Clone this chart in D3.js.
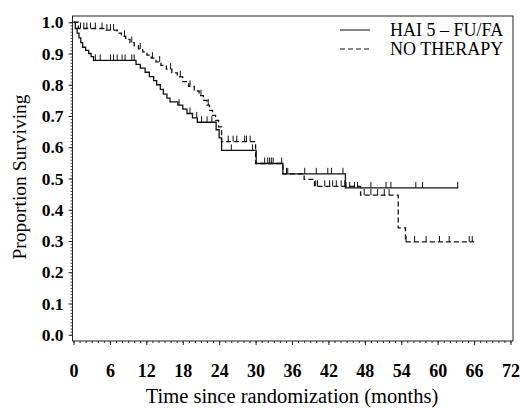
<!DOCTYPE html>
<html>
<head>
<meta charset="UTF-8">
<title>Proportion Surviving</title>
<script src="https://d3js.org/d3.v7.min.js"></script>
<style>
    body { margin: 0; padding: 0; background: #fff; }
    svg { display: block; font-family: "Liberation Serif", "DejaVu Serif", serif; }
</style>
</head>
<body>
<svg id="chart" width="521" height="408"></svg>
<script>
// x labels in months, y labels as proportions
const xTicks = [0, 6, 12, 18, 24, 30, 36, 42, 48, 54, 60, 66, 72];
const yTicks = [0, 0.1, 0.2, 0.3, 0.4, 0.5, 0.6, 0.7, 0.8, 0.9, 1.0];
const legendNames = ["HAI 5 \u2013 FU/FA", "NO THERAPY"];

// HAI 5-FU/FA: step times, survival after step, censor times, last follow-up
const haiTimes = [0.3, 0.6, 0.9, 1.2, 1.5, 2.0, 2.5, 2.9, 3.3,
    10.3, 11.0, 11.8, 12.5, 13.2, 13.7, 14.3, 14.8, 15.4, 15.9, 17.2, 18.0, 18.7, 19.6, 20.4,
    23.5, 24.0, 24.4, 30.1, 34.5, 44.8];
const haiSurv = [0.98, 0.965, 0.95, 0.935, 0.92, 0.91, 0.90, 0.89, 0.878,
    0.865, 0.853, 0.84, 0.826, 0.813, 0.80, 0.785, 0.77, 0.757, 0.745, 0.735, 0.722, 0.708, 0.694, 0.68,
    0.656, 0.63, 0.59, 0.548, 0.515, 0.47];
const haiCensor = [3.6, 4.4, 6.1, 6.6, 7.2, 8.0, 8.5, 9.6, 10.0,
    17.4, 19.2, 20.3, 21.1, 22.0, 22.8, 26.0, 29.5,
    31.5, 32.0, 32.3, 32.6, 32.9, 34.3, 35.1, 35.3, 38.1, 40.0, 41.9, 42.5, 44.4,
    44.9, 45.5, 46.3, 46.8, 49.0, 51.5, 52.3, 56.4, 57.5, 63.3];
const haiEnd = 63.4;

// No therapy
const noTimes = [0.8, 5.0, 7.2, 7.9, 8.6, 9.3, 10.0, 10.7, 11.4, 12.1, 12.8, 13.6, 14.4, 15.3,
    16.2, 17.1, 18.0, 19.0, 19.9, 20.7, 21.4, 22.0, 22.4, 22.9, 23.4, 23.9, 24.4,
    30.0, 34.5, 38.0, 39.7, 47.3, 53.5, 54.7];
const noSurv = [0.98, 0.975, 0.965, 0.955, 0.945, 0.935, 0.925, 0.915, 0.905, 0.895, 0.885, 0.873, 0.862, 0.85,
    0.838, 0.825, 0.81, 0.795, 0.78, 0.765, 0.75, 0.735, 0.718, 0.702, 0.686, 0.665, 0.618,
    0.548, 0.515, 0.497, 0.475, 0.447, 0.342, 0.297];
const noCensor = [1.15, 1.7, 2.2, 2.8, 3.6, 4.7, 5.5, 6.1, 6.6,
    8.4, 9.6, 11.0, 13.0, 14.2, 16.0, 17.6, 19.2, 21.0, 22.2,
    25.5, 26.3, 26.9, 28.2, 28.5, 29.1,
    39.9, 40.2, 41.4, 42.2, 42.7, 43.3, 44.1, 44.7,
    47.9, 49.0, 50.1, 51.2, 52.0,
    54.8, 56.2, 58.1, 60.3, 61.9, 65.2, 65.7];
const noEnd = 66.0;

const svg = d3.select("#chart");

const frame = { left: 72.5, right: 513, top: 16, bottom: 341 };

const x = d3.scaleLinear().domain([0, 72]).range([73.5, 510.5]);
const y = d3.scaleLinear().domain([-0.02, 1.02]).range([frame.bottom, frame.top]);

// frame
svg.append("rect")
    .attr("x", frame.left).attr("y", frame.top)
    .attr("width", frame.right - frame.left)
    .attr("height", frame.bottom - frame.top)
    .attr("fill", "none")
    .attr("stroke", "#222")
    .attr("stroke-width", 1);

// x axis along the bottom of the frame
const xAxis = svg.append("g")
    .attr("transform", `translate(0,${frame.bottom})`)
    .call(d3.axisBottom(x).tickValues(d3.range(0, 73, 1)).tickSize(2).tickFormat(""));
xAxis.select(".domain").remove();
xAxis.selectAll("line").attr("stroke", "#222");

const xMajor = svg.append("g")
    .attr("transform", `translate(0,${frame.bottom})`)
    .call(d3.axisBottom(x).tickValues(xTicks).tickSize(4).tickPadding(19).tickFormat(d3.format("d")));
xMajor.select(".domain").remove();
xMajor.selectAll("line").attr("stroke", "#222");
xMajor.selectAll("text")
    .attr("font-family", "Liberation Serif, serif")
    .attr("font-size", 18)
    .attr("font-weight", "bold")
    .attr("fill", "#000");

// y axis along the left of the frame
const yMinor = svg.append("g")
    .attr("transform", `translate(${frame.left},0)`)
    .call(d3.axisLeft(y).tickValues(d3.range(0, 101, 1).map(d => d / 100)).tickSize(2).tickFormat(""));
yMinor.select(".domain").remove();
yMinor.selectAll("line").attr("stroke", "#444");

const yMajor = svg.append("g")
    .attr("transform", `translate(${frame.left},0)`)
    .call(d3.axisLeft(y).tickValues(yTicks).tickSize(4).tickPadding(5).tickFormat(d3.format(".1f")));
yMajor.select(".domain").remove();
yMajor.selectAll("line").attr("stroke", "#222");
yMajor.selectAll("text")
    .attr("font-family", "Liberation Serif, serif")
    .attr("font-size", 17.5)
    .attr("font-weight", "bold")
    .attr("fill", "#000");

// axis titles
svg.append("text")
    .attr("x", 292)
    .attr("y", 403)
    .attr("text-anchor", "middle")
    .attr("font-size", 20.5)
    .text("Time since randomization (months)");

svg.append("text")
    .attr("transform", "rotate(-90)")
    .attr("x", -177)
    .attr("y", 26)
    .attr("text-anchor", "middle")
    .attr("font-size", 19.5)
    .text("Proportion Surviving");

// survival curves
function stepPoints(times, surv, end) {
    const pts = [[0, 1]];
    times.forEach((t, i) => pts.push([t, surv[i]]));
    pts.push([end, surv[surv.length - 1]]);
    return pts;
}

function survAt(times, surv, t) {
    let s = 1;
    times.forEach((tt, i) => { if (tt <= t) s = surv[i]; });
    return s;
}

const line = d3.line()
    .x(d => x(d[0]))
    .y(d => y(d[1]))
    .curve(d3.curveStepAfter);

const series = [
    { times: haiTimes, surv: haiSurv, censor: haiCensor, end: haiEnd, dash: null },
    { times: noTimes, surv: noSurv, censor: noCensor, end: noEnd, dash: "5,3" }
];

series.forEach(s => {
    svg.append("path")
        .datum(stepPoints(s.times, s.surv, s.end))
        .attr("d", line)
        .attr("fill", "none")
        .attr("stroke", "#111")
        .attr("stroke-width", 1.3)
        .attr("stroke-dasharray", s.dash);

    svg.append("g").selectAll("line")
        .data(s.censor)
        .enter()
        .append("line")
        .attr("x1", d => x(d))
        .attr("x2", d => x(d))
        .attr("y1", d => y(survAt(s.times, s.surv, d)))
        .attr("y2", d => y(survAt(s.times, s.surv, d)) - 6)
        .attr("stroke", "#111")
        .attr("stroke-width", 1);
});

// legend
const legend = svg.append("g");
legendNames.forEach((name, i) => {
    const ly = 30 + i * 19;
    legend.append("line")
        .attr("x1", 340).attr("x2", 370)
        .attr("y1", ly).attr("y2", ly)
        .attr("stroke", "#111")
        .attr("stroke-width", 1)
        .attr("stroke-dasharray", i === 1 ? "5,3" : null);
    legend.append("text")
        .attr("x", 390)
        .attr("y", ly + 6)
        .attr("font-size", 18)
        .text(name);
});
</script>
</body>
</html>
